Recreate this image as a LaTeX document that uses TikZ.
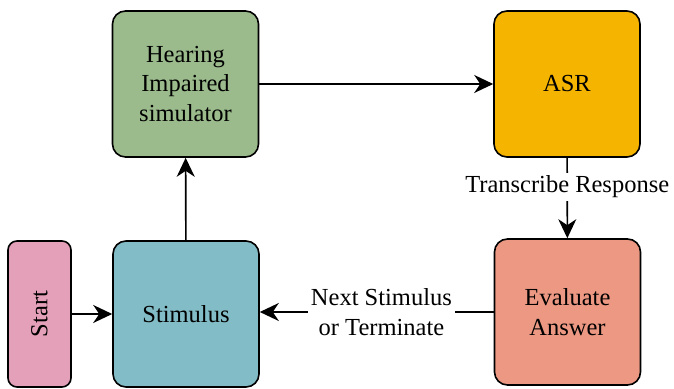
\documentclass[tikz,border=0pt]{standalone}
\usepackage{fontspec}
\setmainfont{Liberation Serif}
\usetikzlibrary{arrows.meta}

\definecolor{startpink}{RGB}{227,160,184}
\definecolor{stimblue}{RGB}{130,188,198}
\definecolor{simgreen}{RGB}{155,187,140}
\definecolor{asryellow}{RGB}{244,180,0}
\definecolor{evalred}{RGB}{236,152,131}

\begin{document}
\begin{tikzpicture}[x=0.5pt,y=0.5pt]
        \tikzstyle{box}=[draw=black, line width=0.8pt, rounded corners=6.5pt, minimum width=73pt, minimum height=73pt, inner sep=1pt, align=center, font=\fontsize{12.25pt}{14.8pt}\selectfont]
        \tikzstyle{flow}=[line width=0.8pt, -{Stealth[length=9.5pt,width=9pt,inset=3pt]}]
        \tikzstyle{note}=[fill=white, inner sep=1.5pt, align=center, font=\fontsize{12.25pt}{15pt}\selectfont]

        \useasboundingbox (0,0) rectangle (674,389);

        \coordinate (A) at (39.5,75);
        \coordinate (B) at (186,75);
        \coordinate (C) at (185.5,305);
        \coordinate (D) at (567,305);
        \coordinate (E) at (567.5,77);

        \node (start) at (A)[box, fill=startpink, rotate=90, minimum width=73pt, minimum height=31.5pt, rounded corners=4.5pt]{Start};
        \node (stimulus) at (B)[box, fill=stimblue]{Stimulus};
        \node (simulator) at (C)[box, fill=simgreen]{Hearing\\Impaired\\simulator};
        \node (asr) at (D)[box, fill=asryellow]{ASR};
        \node (evaluate) at (E)[box, fill=evalred]{Evaluate\\Answer};

        \draw[flow] (start) -- (stimulus);
        \draw[flow] (stimulus) -- (simulator);
        \draw[flow] (simulator) -- (asr);
        \draw[flow] (asr) -- node[note, pos=0.36]{Transcribe Response} (evaluate);
        \draw[flow] (evaluate) -- node[note, pos=0.48]{Next Stimulus\\or Terminate} (stimulus.east |- evaluate.west);
      \end{tikzpicture}
\end{document}
